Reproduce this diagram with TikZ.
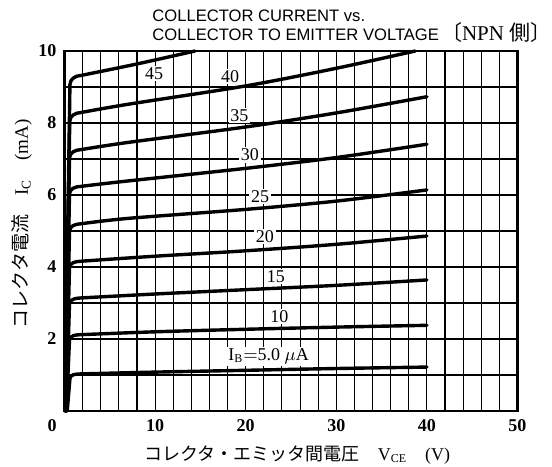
\documentclass[tikz,border=0pt]{standalone}
\usepackage{fontspec}
\setmainfont{Liberation Serif}
\newfontfamily\gothic{Liberation Sans}
\newfontfamily\jfont{Noto Sans CJK JP}
\usetikzlibrary{positioning}
\tikzstyle{gridline} = [draw, line width=0.55pt]
\tikzstyle{frame} = [draw, line width=1.1pt]
\tikzstyle{ibline} = [draw, line width=1.7pt, line join=round, line cap=round]
\tikzstyle{iblab} = [fill=white, inner sep=0.8pt, font=\fontsize{9}{10}\selectfont]
\tikzstyle{ticklab} = [inner sep=0pt, font=\bfseries\fontsize{9}{10}\selectfont]
\tikzstyle{ttl} = [inner sep=0pt, font=\gothic\fontsize{8.3}{10}\selectfont]

\begin{document}
\begin{tikzpicture}[x=4.53pt,y=18pt]
  \useasboundingbox (-7.12,-1.528) rectangle (53.81,11.417);

  % grid and frame
  \draw[gridline] (0,0) grid[xstep=2,ystep=1] (50,10);
  \draw[frame] (0,0) rectangle (50,10);

  % I_B curves
  \draw[ibline] (0.3,0) -- (0.6,0.9) to[out=85,in=182] (1.8,1.03) -- plot[smooth] coordinates {(1.8,1.03) (10,1.08) (20,1.13) (30,1.18) (40,1.22)};
  \draw[ibline] (0.2,0) -- (0.55,1.97) to[out=86,in=182] (1.8,2.12) -- plot[smooth] coordinates {(1.8,2.12) (10,2.2) (20,2.27) (30,2.33) (40,2.38)};
  \draw[ibline] (0.18,0) -- (0.55,2.97) to[out=87,in=182] (1.8,3.14) -- plot[smooth] coordinates {(1.8,3.14) (10,3.25) (20,3.37) (30,3.49) (40,3.64)};
  \draw[ibline] (0.15,0) -- (0.55,3.98) to[out=88,in=182] (1.8,4.16) -- plot[smooth] coordinates {(1.8,4.16) (10,4.3) (20,4.45) (30,4.63) (40,4.86)};
  \draw[ibline] (0.12,0) -- (0.55,5.0) to[out=88,in=182] (1.8,5.2) -- plot[smooth] coordinates {(1.8,5.2) (7,5.35) (20,5.6) (30,5.83) (40,6.14)};
  \draw[ibline] (0.1,0) -- (0.55,6.03) to[out=88,in=182] (1.8,6.24) -- plot[smooth] coordinates {(1.8,6.24) (7,6.39) (20,6.74) (30,7.04) (40,7.41)};
  \draw[ibline] (0.08,0) -- (0.55,7.03) to[out=88,in=182] (1.8,7.26) -- plot[smooth] coordinates {(1.8,7.26) (7,7.46) (20,7.89) (30,8.28) (40,8.73)};
  \draw[ibline] (0.06,0) -- (0.58,8.05) to[out=88,in=182] (1.8,8.29) -- plot[smooth] coordinates {(1.8,8.29) (7,8.52) (20,9.03) (30,9.52) (38.7,10)};
  \draw[ibline] (0.05,0) -- (0.6,9.07) to[out=88,in=182] (1.8,9.32) -- plot[smooth] coordinates {(1.8,9.32) (8,9.64) (14.4,10)};

  % curve labels
  \node[iblab] (l45) at (9.88,9.38) {45};
  \node[iblab] (l40) at (18.27,9.29) {40};
  \node[iblab] (l35) at (19.29,8.2) {35};
  \node[iblab] (l30) at (20.47,7.11) {30};
  \node[iblab] (l25) at (21.58,5.95) {25};
  \node[iblab] (l20) at (22.13,4.84) {20};
  \node[iblab] (l15) at (23.34,3.73) {15};
  \node[iblab] (l10) at (23.71,2.62) {10};
  \node[iblab] (l5) at (22.52,1.51) {I\textsubscript{B}$=$5.0 $\mu$A};

  % ticks
  \node[ticklab] (x0) at (-1.38,-0.4) {0};
  \node[ticklab] (x10) at (10,-0.4) {10};
  \node[ticklab] (x20) at (20,-0.4) {20};
  \node[ticklab] (x30) at (30,-0.4) {30};
  \node[ticklab] (x40) at (40,-0.4) {40};
  \node[ticklab] (x50) at (50,-0.4) {50};
  \node[ticklab, anchor=east] (y2) at (-0.85,2) {2};
  \node[ticklab, anchor=east] (y4) at (-0.85,4) {4};
  \node[ticklab, anchor=east] (y6) at (-0.85,6) {6};
  \node[ticklab, anchor=east] (y8) at (-0.85,8) {8};
  \node[ticklab, anchor=east] (y10) at (-0.85,10) {10};

  % axis titles
  \node[rotate=90, font=\fontsize{9.5}{10}\selectfont] (ylab) at (-4.69,5.2) {{\jfont コレクタ電流}\quad I\textsubscript{C}\quad(mA)};
  \node[font=\fontsize{9}{10}\selectfont] (xlab) at (25.7,-1.22) {{\jfont コレクタ・エミッタ間電圧}\quad V\textsubscript{CE}\quad(V)};

  % title
  \coordinate (redge) at (53.78,0);
  \node[ttl, anchor=base west] (t1) at (9.66,10.83) {COLLECTOR CURRENT vs.};
  \node[ttl, anchor=base west] (t2) at ([yshift=-9.5pt]t1.base west) {COLLECTOR TO EMITTER VOLTAGE};
  \node[inner sep=0pt, anchor=base east, font=\fontsize{10.5}{11}\selectfont] (npn) at (t2.base -| redge) {{\jfont 〔}NPN {\jfont 側〕}};
\end{tikzpicture}
\end{document}
